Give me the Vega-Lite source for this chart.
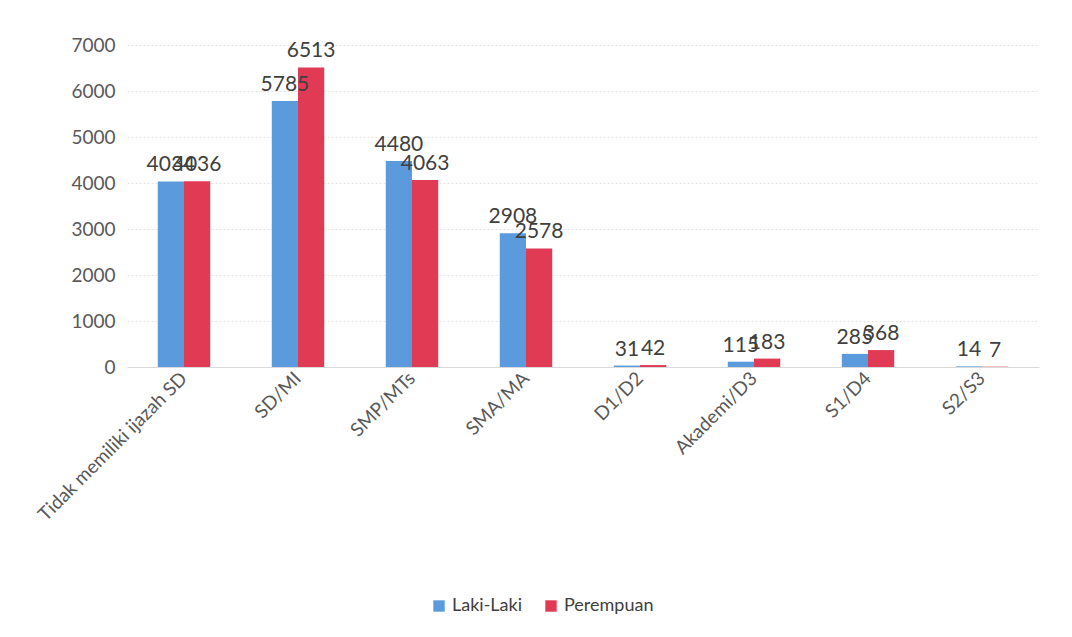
{
  "$schema": "https://vega.github.io/schema/vega-lite/v6.json",
  "width": 912,
  "height": 322,
  "autosize": {"type": "none"},
  "padding": {"left": 127, "top": 45, "right": 33, "bottom": 270},
  "background": "white",
  "config": {
    "view": {"stroke": null},
    "font": "Lato"
  },
  "data": {
    "values": [
      {"kategori": "Tidak memiliki ijazah SD", "jenis": "Laki-Laki", "jumlah": 4034},
      {"kategori": "Tidak memiliki ijazah SD", "jenis": "Perempuan", "jumlah": 4036},
      {"kategori": "SD/MI", "jenis": "Laki-Laki", "jumlah": 5785},
      {"kategori": "SD/MI", "jenis": "Perempuan", "jumlah": 6513},
      {"kategori": "SMP/MTs", "jenis": "Laki-Laki", "jumlah": 4480},
      {"kategori": "SMP/MTs", "jenis": "Perempuan", "jumlah": 4063},
      {"kategori": "SMA/MA", "jenis": "Laki-Laki", "jumlah": 2908},
      {"kategori": "SMA/MA", "jenis": "Perempuan", "jumlah": 2578},
      {"kategori": "D1/D2", "jenis": "Laki-Laki", "jumlah": 31},
      {"kategori": "D1/D2", "jenis": "Perempuan", "jumlah": 42},
      {"kategori": "Akademi/D3", "jenis": "Laki-Laki", "jumlah": 115},
      {"kategori": "Akademi/D3", "jenis": "Perempuan", "jumlah": 183},
      {"kategori": "S1/D4", "jenis": "Laki-Laki", "jumlah": 285},
      {"kategori": "S1/D4", "jenis": "Perempuan", "jumlah": 368},
      {"kategori": "S2/S3", "jenis": "Laki-Laki", "jumlah": 14},
      {"kategori": "S2/S3", "jenis": "Perempuan", "jumlah": 7}
    ]
  },
  "encoding": {
    "x": {
      "field": "kategori",
      "type": "nominal",
      "sort": null,
      "scale": {"paddingInner": 0.54, "paddingOuter": 0.27},
      "axis": {
        "title": null,
        "labelAngle": -45,
        "labelAlign": "right",
        "labelBaseline": "middle",
        "labelFontSize": 19,
        "labelLimit": 400,
        "labelColor": "#595959",
        "labelPadding": 8,
        "ticks": false,
        "domainColor": "#d9d9d9",
        "domainWidth": 1
      }
    },
    "xOffset": {"field": "jenis", "type": "nominal", "scale": {"paddingInner": 0}},
    "y": {
      "field": "jumlah",
      "type": "quantitative",
      "scale": {"domain": [0, 7000], "nice": false},
      "axis": {
        "title": null,
        "format": "d",
        "values": [0, 1000, 2000, 3000, 4000, 5000, 6000, 7000],
        "labelFontSize": 19,
        "labelColor": "#595959",
        "labelPadding": 12,
        "ticks": false,
        "domain": false,
        "gridColor": "#e3e3e3",
        "gridDash": [2, 2]
      }
    }
  },
  "layer": [
    {
      "mark": {"type": "bar"},
      "encoding": {
        "color": {
          "field": "jenis",
          "type": "nominal",
          "scale": {"domain": ["Laki-Laki", "Perempuan"], "range": ["#5B9BDD", "#E03A54"]},
          "legend": {
            "title": null,
            "orient": "none",
            "direction": "horizontal",
            "legendX": 303,
            "legendY": 552,
            "symbolType": "square",
            "symbolSize": 130,
            "symbolStrokeWidth": 0,
            "labelFontSize": 18,
            "labelColor": "#404040",
            "columnPadding": 20
          }
        }
      }
    },
    {
      "mark": {"type": "text", "baseline": "bottom", "dy": -6, "fontSize": 21, "color": "#404040"},
      "encoding": {
        "text": {"field": "jumlah", "type": "quantitative"}
      }
    }
  ]
}
